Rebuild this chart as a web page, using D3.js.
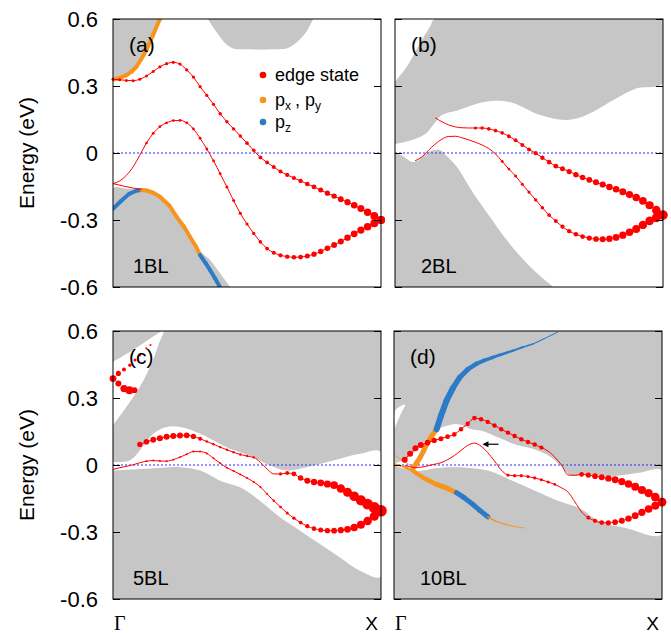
<!DOCTYPE html>
<html><head><meta charset="utf-8">
<script src="https://cdn.jsdelivr.net/npm/d3@7"></script>
<style>body{margin:0;background:#fff}svg{display:block}</style>
</head><body>
<svg id="chart" width="671" height="633"></svg>
<script>
// ---------------- DATA (k from Γ=0 to X=1, energy in eV) ----------------
const tickValues = [0.6, 0.3, 0, -0.3, -0.6];
const tickLabels = ["0.6", "0.3", "0", "-0.3", "-0.6"];
const panelNames = ["(a)", "(b)", "(c)", "(d)"];
const layerNames = ["1BL", "2BL", "5BL", "10BL"];
const kPointLabels = ["Γ", "X"];
const legendLabels = ["edge state", "px,py", "pz"];

// uniform k grids
const kA = [0,.025,.05,.075,.1,.125,.15,.175,.2,.225,.25,.275,.3,.325,.35,.375,.4,.425,.45,.475,.5,.525,.55,.575,.6,.625,.65,.675,.7,.725,.75,.775,.8,.825,.85,.875,.9,.925,.95,.975,1];
// panel (a) 1BL
const aUpE = [0.330,0.328,0.325,0.324,0.330,0.345,0.365,0.386,0.400,0.406,0.398,0.372,0.340,0.297,0.258,0.218,0.176,0.140,0.108,0.076,0.044,0.012,-0.020,-0.042,-0.063,-0.083,-0.098,-0.112,-0.125,-0.139,-0.152,-0.166,-0.180,-0.193,-0.207,-0.220,-0.234,-0.249,-0.265,-0.282,-0.300];
const aUpR = [1.5,1.5,1.5,1.5,1.5,1.5,1.5,1.6,1.6,1.6,1.6,1.6,1.6,1.6,1.6,1.6,1.7,1.7,1.7,1.7,1.8,1.8,1.9,1.9,2,2,2.1,2.1,2.2,2.3,2.4,2.5,2.6,2.7,2.9,3.1,3.3,3.5,3.7,3.9,4.1];
const aLoE = [-0.137,-0.125,-0.100,-0.062,-0.010,0.045,0.088,0.118,0.135,0.145,0.146,0.135,0.108,0.066,0.018,-0.035,-0.093,-0.152,-0.213,-0.270,-0.318,-0.360,-0.398,-0.428,-0.447,-0.458,-0.464,-0.467,-0.466,-0.461,-0.453,-0.441,-0.427,-0.412,-0.396,-0.379,-0.362,-0.345,-0.330,-0.315,-0.300];
const aLoR = [0,0,0,0,0,1.3,1.4,1.4,1.4,1.4,1.4,1.4,1.4,1.4,1.4,1.4,1.4,1.5,1.5,1.6,1.6,1.7,1.8,1.9,2.0,2.1,2.2,2.3,2.4,2.5,2.6,2.7,2.8,2.9,3.0,3.2,3.4,3.6,3.8,4.0,4.1];
const aThinK = [0,0.04,0.07,0.107];
const aThinE = [-0.137,-0.148,-0.156,-0.163];
const aOrUpK = [0,0.007,0.025,0.051,0.07,0.088,0.105,0.125,0.15,0.175];
const aOrUpE = [0.33,0.33,0.336,0.349,0.365,0.387,0.42,0.461,0.53,0.6];
const aBlUpK = [0,0.03,0.06,0.09,0.107];
const aBlUpE = [-0.25,-0.215,-0.183,-0.168,-0.166];
const aOrLoK = [0.107,0.125,0.15,0.175,0.21,0.237,0.265,0.287,0.31,0.325];
const aOrLoE = [-0.166,-0.168,-0.178,-0.196,-0.235,-0.285,-0.33,-0.375,-0.42,-0.457];
const aBlLoK = [0.325,0.345,0.362,0.38,0.399];
const aBlLoE = [-0.457,-0.492,-0.524,-0.56,-0.6];
const aGreyTL = [[0,0.6],[0.175,0.6],[0.15,0.53],[0.125,0.461],[0.105,0.42],[0.088,0.387],[0.07,0.365],[0.051,0.349],[0.025,0.336],[0,0.33]];
const aGreyTop = [[0.354,0.6],[0.37,0.57],[0.39,0.535],[0.42,0.49],[0.449,0.468],[0.5,0.464],[0.6,0.464],[0.648,0.468],[0.68,0.49],[0.71,0.525],[0.73,0.56],[0.747,0.6]];
const aGreyBot = [[0,-0.6],[0,-0.158],[0.05,-0.16],[0.1,-0.162],[0.125,-0.167],[0.15,-0.177],[0.175,-0.196],[0.21,-0.235],[0.237,-0.28],[0.265,-0.33],[0.287,-0.37],[0.31,-0.415],[0.33,-0.445],[0.362,-0.479],[0.40,-0.54],[0.437,-0.6]];

// panel (b) 2BL
const bUpK = [.15,.175,.2,.225,.25,.275,.3,.325,.35,.375,.4,.425,.45,.475,.5,.525,.55,.575,.6,.625,.65,.675,.7,.725,.75,.775,.8,.825,.85,.875,.9,.925,.95,.975,1];
const bUpE = [0.158,0.140,0.126,0.117,0.113,0.112,0.112,0.112,0.108,0.100,0.090,0.075,0.057,0.036,0.016,-0.001,-0.021,-0.041,-0.059,-0.070,-0.083,-0.097,-0.110,-0.120,-0.131,-0.141,-0.152,-0.162,-0.173,-0.186,-0.199,-0.214,-0.234,-0.256,-0.278];
const bUpR = [0,0,0,0,0,0,1.6,1.7,1.8,1.8,1.8,1.9,1.9,2.0,2.0,2.1,2.2,2.3,2.4,2.5,2.6,2.7,2.8,2.9,3.0,3.1,3.2,3.3,3.5,3.6,3.8,3.9,4.1,4.3,4.6];
const bLoK = [.075,.1,.125,.15,.175,.2,.225,.25,.275,.3,.325,.35,.375,.4,.425,.45,.475,.5,.525,.55,.575,.6,.625,.65,.675,.7,.725,.75,.775,.8,.825,.85,.875,.9,.925,.95,.975,1];
const bLoE = [-0.035,-0.018,0.012,0.040,0.062,0.074,0.075,0.068,0.059,0.048,0.036,0.020,-0.004,-0.038,-0.072,-0.103,-0.140,-0.175,-0.210,-0.245,-0.278,-0.305,-0.330,-0.350,-0.364,-0.374,-0.381,-0.385,-0.386,-0.384,-0.378,-0.368,-0.355,-0.340,-0.322,-0.304,-0.290,-0.278];
const bLoR = [0,0,0,0,0,0,0,0,0,0,0,0,0,1.4,1.4,1.5,1.5,1.6,1.7,1.8,1.9,2.0,2.1,2.2,2.3,2.4,2.6,2.8,3.0,3.2,3.4,3.6,3.8,4.0,4.2,4.3,4.5,4.6];
const bGreyTop = [[0,0.319],[0.044,0.386],[0.093,0.491],[0.131,0.566],[0.149,0.6],[1,0.6],[1,0.312],[0.902,0.29],[0.815,0.237],[0.715,0.17],[0.64,0.148],[0.541,0.17],[0.44,0.224],[0.374,0.234],[0.312,0.223],[0.238,0.193],[0.175,0.17],[0.144,0.128],[0.113,0.085],[0.063,0.058],[0,0.04]];
const bGreyBot = [[0,-0.6],[0,-0.003],[0.03,-0.015],[0.062,-0.04],[0.085,-0.035],[0.105,-0.015],[0.125,0.005],[0.15,0.013],[0.168,0.013],[0.19,-0.01],[0.23,-0.061],[0.292,-0.18],[0.354,-0.285],[0.417,-0.39],[0.504,-0.509],[0.591,-0.6]];

// panel (c) 5BL
const cUpK = [.1,.125,.15,.175,.2,.225,.25,.275,.3,.325,.35,.375,.4,.425,.45,.475,.5,.525,.55,.575,.6,.625,.65,.675,.7,.725,.75,.775,.8,.825,.85,.875,.9,.925,.95,.975,1];
const cUpE = [0.092,0.104,0.113,0.120,0.126,0.130,0.132,0.133,0.128,0.118,0.105,0.093,0.080,0.068,0.057,0.047,0.040,0.034,0.012,-0.018,-0.040,-0.040,-0.036,-0.040,-0.058,-0.070,-0.076,-0.080,-0.085,-0.090,-0.105,-0.122,-0.140,-0.158,-0.175,-0.191,-0.205];
const cUpR = [2.6,2.8,2.9,3.0,3.0,3.0,3.0,2.9,2.6,2.0,1.3,1.2,1.2,1.2,1.2,1.2,1.2,1.2,0,0,0,1.6,2.0,2.4,2.7,3.0,3.2,3.4,3.6,3.9,4.2,4.5,4.8,5.1,5.4,5.6,5.8];
const cLoE = [-0.020,-0.012,-0.006,0.001,0.010,0.017,0.020,0.018,0.017,0.024,0.035,0.048,0.060,0.060,0.052,0.030,0.008,-0.012,-0.027,-0.042,-0.058,-0.076,-0.098,-0.130,-0.160,-0.188,-0.215,-0.238,-0.258,-0.274,-0.285,-0.291,-0.294,-0.294,-0.292,-0.288,-0.280,-0.268,-0.251,-0.229,-0.205];
const cLoR = [0,0,0,0,0,1,1,1,1,1,1,1,1,1,1,1,1,1,1,1,1,1,1,1,1.2,1.3,1.5,1.7,1.9,2.1,2.3,2.5,2.7,2.9,3.1,3.4,3.7,4.0,4.3,4.6,4.9];
const cFragAK = [0,0.02,0.041,0.063,0.082,0.1,0.125,0.14];
const cFragAE = [0.387,0.41,0.428,0.447,0.47,0.492,0.522,0.537];
const cFragAR = [3.4,2.6,2.0,1.7,1.5,1.3,1.1,1.0];
const cFragBK = [0.02,0.041,0.061,0.08];
const cFragBE = [0.365,0.342,0.335,0.335];
const cFragBR = [3.0,3.6,4.0,3.0];
const cWhiteTL = [[0,0.462],[0.075,0.515],[0.15,0.575],[0.188,0.6],[0.17,0.54],[0.144,0.455],[0.1,0.35],[0.05,0.26],[0,0.178]];
const cWhiteBand = [[0,0.013],[0.062,0.02],[0.1,0.065],[0.15,0.14],[0.2,0.17],[0.25,0.17],[0.325,0.14],[0.424,0.08],[0.524,0.035],[0.574,0.005],[0.648,-0.025],[0.722,-0.01],[0.822,0.02],[0.922,0.05],[1,0.058],
  [1,-0.5],[0.922,-0.474],[0.847,-0.414],[0.772,-0.354],[0.698,-0.294],[0.623,-0.234],[0.548,-0.16],[0.474,-0.1],[0.399,-0.07],[0.325,-0.025],[0.25,-0.01],[0.125,-0.017],[0,-0.025]];

// panel (d) 10BL
const dK = [.04,.06,.08,.1,.125,.15,.175,.2,.225,.25,.275,.3,.325,.35,.375,.4,.425,.45,.475,.5,.525,.55,.575,.6,.625,.65,.675,.7,.725,.75,.775,.8,.825,.85,.875,.9,.925,.95,.975,1];
const dUpE = [0.024,0.050,0.075,0.090,0.100,0.110,0.118,0.127,0.137,0.160,0.185,0.210,0.205,0.193,0.177,0.160,0.145,0.130,0.115,0.103,0.092,0.078,0.062,0.035,0.000,-0.045,-0.046,-0.042,-0.045,-0.050,-0.055,-0.060,-0.066,-0.074,-0.085,-0.097,-0.112,-0.126,-0.144,-0.166];
const dUpR = [3,3,3,3,2.8,2.6,2.5,2.4,2.3,2.2,2.2,2.3,2.2,2.2,2.2,2.2,2.2,2.2,2.2,2.2,2.2,2.1,0,0,0,0,0,2.4,2.6,2.8,3.0,3.2,3.4,3.6,3.8,4.0,4.1,4.2,4.3,4.4];
const dLoE = [-0.002,-0.008,-0.012,-0.010,-0.004,0.003,0.010,0.024,0.042,0.065,0.088,0.098,0.084,0.055,0.018,-0.022,-0.045,-0.048,-0.048,-0.052,-0.058,-0.066,-0.076,-0.087,-0.102,-0.122,-0.165,-0.210,-0.236,-0.250,-0.258,-0.259,-0.256,-0.250,-0.240,-0.227,-0.212,-0.197,-0.182,-0.166];
const dLoR = [0,0,0,0,0,0,0,0,0,0,0,0,0,0,0,0,1.6,1.6,1.6,1.6,1.6,1.6,1.5,1.4,0,0,0,0,1.9,2.1,2.4,2.6,2.8,3.0,3.2,3.4,3.6,3.8,4.0,4.2];
const dBlUpK = [0.159,0.175,0.196,0.22,0.245,0.275,0.307,0.34,0.369,0.4,0.444,0.48,0.518,0.56,0.611];
const dBlUpE = [0.16,0.22,0.288,0.345,0.392,0.428,0.453,0.47,0.482,0.495,0.512,0.527,0.542,0.565,0.595];
const dBlUpW = [6,6,6,5.5,5,4.5,4,3.5,3,2.5,2,1.5,1.2,1];
const dOrUpK = [0.072,0.085,0.097,0.11,0.122,0.14,0.159];
const dOrUpE = [-0.012,0.01,0.033,0.062,0.093,0.128,0.16];
const dOrTinyK = [0,0.03,0.06];
const dOrTinyE = [0.045,0.02,0.0];
const dOrLoK = [0,0.04,0.072,0.109,0.159,0.2,0.233];
const dOrLoE = [0.006,-0.01,-0.027,-0.057,-0.087,-0.105,-0.124];
const dOrLoW = [1.5,2.5,4,4.5,5,5];
const dBlLoK = [0.233,0.26,0.295,0.32,0.35];
const dBlLoE = [-0.124,-0.145,-0.177,-0.203,-0.232];
const dOrThK = [0.35,0.38,0.419,0.45,0.487];
const dOrThE = [-0.232,-0.252,-0.267,-0.276,-0.282];
const dOrThW = [1.5,1.2,1,0.8];
const dWhiteL = [[0.004,0.168],[0.004,0.243],[0.042,0.27],[0.028,0.235],[0.015,0.2]];
const dWhiteBand = [[0,0.01],[0.017,0.012],[0.067,0.048],[0.116,0.108],[0.154,0.15],[0.178,0.168],[0.24,0.183],[0.29,0.16],[0.327,0.153],[0.389,0.123],[0.45,0.093],[0.5,0.078],[0.568,0.048],[0.617,0.003],[0.65,-0.04],[0.667,-0.049],[0.716,-0.042],[0.815,-0.05],[0.914,-0.035],[1,-0.025],
  [1,-0.311],[0.865,-0.282],[0.766,-0.252],[0.691,-0.192],[0.617,-0.162],[0.53,-0.117],[0.444,-0.072],[0.357,-0.027],[0.27,-0.012],[0.171,-0.012],[0.072,-0.027],[0,0.0]];
const dArrowFrom = [0.39, 0.093];
const dArrowTo = [0.33, 0.093];

// ---------------- DRAWING ----------------
const GREY = "#c6c6c6", RED = "#ff0000", ORANGE = "#f7941d", BLUE = "#2b7bc9";
const FONT = "'Liberation Sans', Arial, Helvetica, sans-serif";
const W = 268, H = 268;
const zip = (k, e, r) => k.map((v, i) => ({k: v, e: e[i], r: r ? (r[i] || 0) : 0}));

const panels = [
  {x0:113, y0:19, bg:"#fff", labels:true,
   grey:[aGreyTL, aGreyTop, aGreyBot], white:[],
   orb:[{k:aOrUpK,e:aOrUpE,c:ORANGE,w:[4]},{k:aBlUpK,e:aBlUpE,c:BLUE,w:[4]},{k:aOrLoK,e:aOrLoE,c:ORANGE,w:[4]},{k:aBlLoK,e:aBlLoE,c:BLUE,w:[4]}],
   red:[zip(kA,aUpE,aUpR), zip(kA,aLoE,aLoR), zip(aThinK,aThinE)], frags:[]},
  {x0:395, y0:19, bg:"#fff", labels:false,
   grey:[bGreyTop, bGreyBot], white:[], orb:[],
   red:[zip(bUpK,bUpE,bUpR), zip(bLoK,bLoE,bLoR)], frags:[]},
  {x0:113, y0:331, bg:GREY, labels:true,
   grey:[], white:[cWhiteTL, cWhiteBand], orb:[],
   red:[zip(cUpK,cUpE,cUpR), zip(kA,cLoE,cLoR)],
   frags:[zip(cFragAK,cFragAE,cFragAR), zip(cFragBK,cFragBE,cFragBR)]},
  {x0:394, y0:331, bg:GREY, labels:false,
   grey:[], white:[dWhiteL, dWhiteBand],
   orb:[{k:dOrTinyK,e:dOrTinyE,c:ORANGE,w:[0.8]},{k:dOrLoK,e:dOrLoE,c:ORANGE,w:dOrLoW},{k:dBlLoK,e:dBlLoE,c:BLUE,w:[5]},{k:dOrThK,e:dOrThE,c:ORANGE,w:dOrThW},
        {k:dOrUpK,e:dOrUpE,c:ORANGE,w:[5]},{k:dBlUpK,e:dBlUpE,c:BLUE,w:dBlUpW}],
   red:[zip(dK,dUpE,dUpR), zip(dK,dLoE,dLoR)], frags:[], arrow:true}
];

const svg = d3.select("#chart");
const defs = svg.append("defs");

panels.forEach((p, pi) => {
  const x = d3.scaleLinear().domain([0, 1]).range([p.x0, p.x0 + W]);
  const y = d3.scaleLinear().domain([-0.6, 0.6]).range([p.y0 + H, p.y0]);
  const cid = "clip" + pi;
  defs.append("clipPath").attr("id", cid).append("rect")
    .attr("x", p.x0).attr("y", p.y0).attr("width", W).attr("height", H);
  const g = svg.append("g").attr("clip-path", `url(#${cid})`);
  g.append("rect").attr("x", p.x0).attr("y", p.y0).attr("width", W).attr("height", H).attr("fill", p.bg);
  const poly = d3.line().x(d => x(d[0])).y(d => y(d[1])).curve(d3.curveCatmullRom.alpha(0.5));
  p.grey.forEach(pg => g.append("path").attr("d", poly(pg) + "Z").attr("fill", GREY));
  p.white.forEach(pw => g.append("path").attr("d", poly(pw) + "Z").attr("fill", "#fff"));

  // Fermi level
  g.append("line").attr("x1", x(0)).attr("x2", x(1)).attr("y1", y(0)).attr("y2", y(0))
    .attr("stroke", "#2a2aff").attr("stroke-width", 1.1).attr("stroke-dasharray", "2,2");

  // orbital-projected bands
  p.orb.forEach(o => {
    for (let i = 0; i < o.k.length - 1; i++) {
      const w = o.w[Math.min(i, o.w.length - 1)];
      g.append("line").attr("x1", x(o.k[i])).attr("y1", y(o.e[i]))
        .attr("x2", x(o.k[i + 1])).attr("y2", y(o.e[i + 1]))
        .attr("stroke", o.c).attr("stroke-width", w).attr("stroke-linecap", "round");
    }
  });

  // edge states: line + weighted dots
  const ln = d3.line().x(d => x(d.k)).y(d => y(d.e)).curve(d3.curveMonotoneX);
  p.red.forEach(c => {
    g.append("path").attr("d", ln(c)).attr("fill", "none").attr("stroke", RED).attr("stroke-width", 1);
  });
  const sg = svg.append("g");
  p.red.concat(p.frags).forEach(c => {
    sg.selectAll(null).data(c.filter(d => d.r > 0)).enter().append("circle")
      .attr("cx", d => x(d.k)).attr("cy", d => y(d.e)).attr("r", d => d.r).attr("fill", RED);
  });

  if (p.arrow) {
    const ax1 = x(dArrowFrom[0]), ax2 = x(dArrowTo[0]), ay = y(dArrowFrom[1]);
    svg.append("line").attr("x1", ax1).attr("x2", ax2 + 4).attr("y1", ay).attr("y2", ay)
      .attr("stroke", "#000").attr("stroke-width", 1.2);
    svg.append("path").attr("d", `M${ax2},${ay}L${ax2 + 6},${ay - 3}L${ax2 + 6},${ay + 3}Z`).attr("fill", "#000");
  }

  // axes
  const left = d3.axisLeft(y).tickValues(tickValues).tickSizeInner(-7).tickSizeOuter(0).tickPadding(15)
    .tickFormat((d, i) => p.labels ? tickLabels[i] : "");
  const lg = svg.append("g").attr("transform", `translate(${p.x0},0)`).call(left);
  lg.select(".domain").remove();
  lg.selectAll("text").attr("font-family", FONT).attr("font-size", 22).attr("fill", "#000");
  const right = d3.axisRight(y).tickValues(tickValues).tickSizeInner(-7).tickSizeOuter(0).tickFormat("");
  const rg = svg.append("g").attr("transform", `translate(${p.x0 + W},0)`).call(right);
  rg.select(".domain").remove();

  svg.append("rect").attr("x", p.x0).attr("y", p.y0).attr("width", W).attr("height", H)
    .attr("fill", "none").attr("stroke", "#000").attr("stroke-width", 1);

  svg.append("text").attr("x", p.x0 + 16).attr("y", p.y0 + 33).text(panelNames[pi])
    .attr("font-family", FONT).attr("font-size", 21);
  svg.append("text").attr("x", p.x0 + (pi % 2 ? 26 : 20)).attr("y", p.y0 + H - 14).text(layerNames[pi])
    .attr("font-family", FONT).attr("font-size", 20);

  if (p.labels) {
    svg.append("text").attr("transform", `translate(34,${p.y0 + H / 2}) rotate(-90)`)
      .attr("text-anchor", "middle").attr("font-family", FONT).attr("font-size", 21).text("Energy (eV)");
  }
  if (pi >= 2) {
    svg.append("text").attr("x", p.x0 + 1).attr("y", 630).text(kPointLabels[0])
      .attr("font-family", "'Liberation Serif', 'Times New Roman', serif").attr("font-size", 20);
    svg.append("text").attr("x", p.x0 + W - 3).attr("y", 630).attr("text-anchor", "end").text(kPointLabels[1])
      .attr("font-family", FONT).attr("font-size", 19);
  }
});

// legend in panel (a)
const lgd = svg.append("g").attr("font-family", FONT).attr("font-size", 18);
const legendItems = [{c: RED, y: 75}, {c: ORANGE, y: 100}, {c: BLUE, y: 122}];
legendItems.forEach(it => lgd.append("circle").attr("cx", 263).attr("cy", it.y).attr("r", 3.3).attr("fill", it.c));
lgd.append("text").attr("x", 275).attr("y", 81).text(legendLabels[0]);
const t2 = lgd.append("text").attr("y", 106);
t2.append("tspan").attr("x", 275).text("p");
t2.append("tspan").attr("x", 285).attr("dy", 4).attr("font-size", 12).text("x");
t2.append("tspan").attr("x", 295).attr("dy", -4).text(",");
t2.append("tspan").attr("x", 305).text("p");
t2.append("tspan").attr("x", 315).attr("dy", 4).attr("font-size", 12).text("y");
const t3 = lgd.append("text").attr("y", 128);
t3.append("tspan").attr("x", 275).text("p");
t3.append("tspan").attr("x", 285).attr("dy", 4).attr("font-size", 12).text("z");
</script>
</body></html>
